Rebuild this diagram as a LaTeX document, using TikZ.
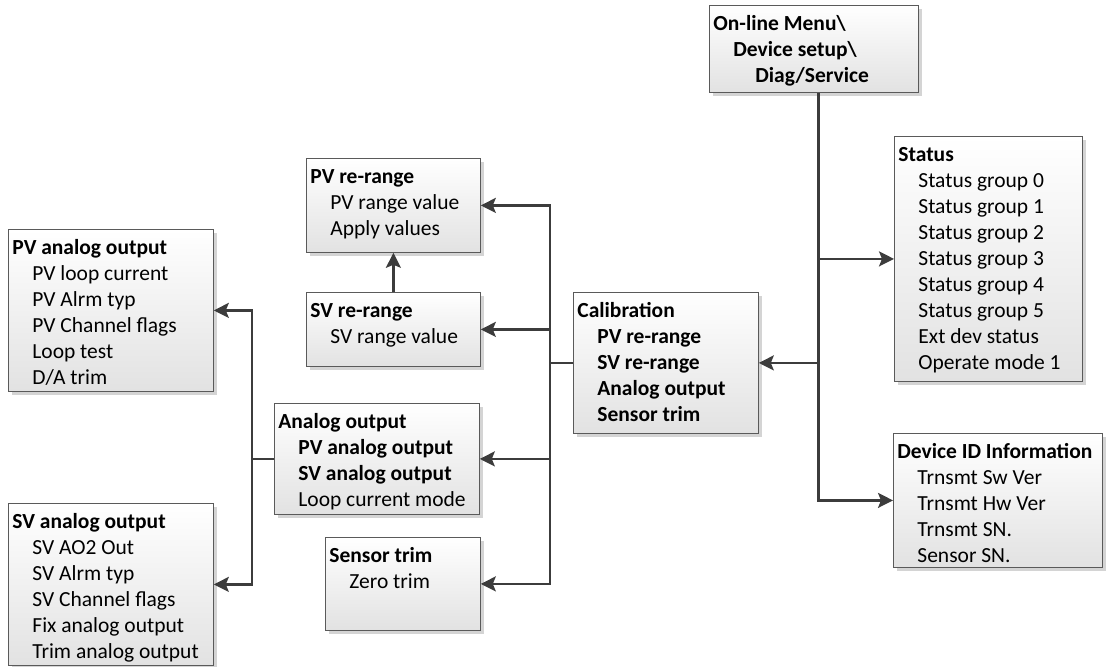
\documentclass[tikz,border=0pt]{standalone}
\usepackage{fontspec}
\setmainfont{Carlito}
\usetikzlibrary{arrows.meta,shadows}
\definecolor{boxline}{RGB}{90,90,90}
\definecolor{linkline}{RGB}{60,60,60}
\definecolor{boxshade}{RGB}{226,226,226}
\definecolor{boxshadow}{RGB}{212,212,212}

% text of one menu box: title line, then indented entries
\newcommand{\boxtitle}[1]{\rule{0pt}{25pt}\hspace*{4pt}\textbf{#1}}
\newcommand{\boxitem}[1]{\\\hspace*{24pt}#1}
\newcommand{\boxbody}[3]{\parbox[c][#2][t]{#1}{#3}}

\begin{document}
\begin{tikzpicture}[x=1pt, y=-1pt,
    font=\fontsize{21.5pt}{26pt}\selectfont,
    menubox/.style={draw=boxline, line width=0.8pt, inner sep=0pt, anchor=north west,
      top color=white, bottom color=boxshade,
      drop shadow={shadow xshift=4pt, shadow yshift=-4pt, fill=boxshadow, opacity=1}},
    link/.style={draw=linkline, line width=2.2pt},
    arrowlink/.style={link, -{Stealth[length=15pt, width=15pt, inset=3pt]}}]
    \useasboundingbox (0,0) rectangle (1107,666);

    % menu boxes
    \node[menubox] (menu) at (709,5) {\boxbody{209pt}{87pt}{\rule{0pt}{2pt}\boxtitle{On-line Menu\textbackslash}\boxitem{\textbf{Device setup\textbackslash}}\\\hspace*{46pt}\textbf{Diag/Service}}};
    \node[menubox] (status) at (894,136) {\boxbody{188pt}{245pt}{\boxtitle{Status}\boxitem{Status group 0}\boxitem{Status group 1}\boxitem{Status group 2}\boxitem{Status group 3}\boxitem{Status group 4}\boxitem{Status group 5}\boxitem{Ext dev status}\boxitem{Operate mode 1}}};
    \node[menubox] (devid) at (893,433) {\boxbody{209pt}{134pt}{\boxtitle{Device ID Information}\boxitem{Trnsmt Sw Ver}\boxitem{Trnsmt Hw Ver}\boxitem{Trnsmt SN.}\boxitem{Sensor SN.}}};
    \node[menubox] (calib) at (573,292) {\boxbody{185pt}{141pt}{\boxtitle{Calibration}\boxitem{\textbf{PV re-range}}\boxitem{\textbf{SV re-range}}\boxitem{\textbf{Analog output}}\boxitem{\textbf{Sensor trim}}}};
    \node[menubox] (pvrr) at (306,158) {\boxbody{174pt}{94pt}{\boxtitle{PV re-range}\boxitem{PV range value}\boxitem{Apply values}}};
    \node[menubox] (svrr) at (306,292) {\boxbody{174pt}{74pt}{\boxtitle{SV re-range}\boxitem{SV range value}}};
    \node[menubox] (aout) at (274,403) {\boxbody{205pt}{111pt}{\boxtitle{Analog output}\boxitem{\textbf{PV analog output}}\boxitem{\textbf{SV analog output}}\boxitem{Loop current mode}}};
    \node[menubox] (strim) at (325,537) {\boxbody{155pt}{93pt}{\boxtitle{Sensor trim}\boxitem{Zero trim}}};
    \node[menubox] (pvao) at (8,229) {\boxbody{205pt}{162pt}{\boxtitle{PV analog output}\boxitem{PV loop current}\boxitem{PV Alrm typ}\boxitem{PV Channel flags}\boxitem{Loop test}\boxitem{D/A trim}}};
    \node[menubox] (svao) at (8,503) {\boxbody{205pt}{162pt}{\boxtitle{SV analog output}\boxitem{SV AO2 Out}\boxitem{SV Alrm typ}\boxitem{SV Channel flags}\boxitem{Fix analog output}\boxitem{Trim analog output}}};

    % connectors
    \coordinate (calibjoint) at ([xshift=-23pt]calib.west);
    \coordinate (aoutjoint) at ([xshift=-22pt]aout.west);
    \draw[arrowlink] ([xshift=4.5pt]menu.south) |- (status.west);
    \draw[arrowlink] ([xshift=4.5pt]menu.south) |- (calib.east);
    \draw[arrowlink] ([xshift=4.5pt]menu.south) |- (devid.west);
    \draw[link] (calib.west) -- (calibjoint);
    \draw[arrowlink] (calibjoint) |- (pvrr.east);
    \draw[arrowlink] (calibjoint) |- (svrr.east);
    \draw[arrowlink] (calibjoint) |- (aout.east);
    \draw[arrowlink] (calibjoint) |- (strim.east);
    \draw[arrowlink] (svrr.north) -- (pvrr.south);
    \draw[link] (aout.west) -- (aoutjoint);
    \draw[arrowlink] (aoutjoint) |- (pvao.east);
    \draw[arrowlink] (aoutjoint) |- (svao.east);
  \end{tikzpicture}
\end{document}
